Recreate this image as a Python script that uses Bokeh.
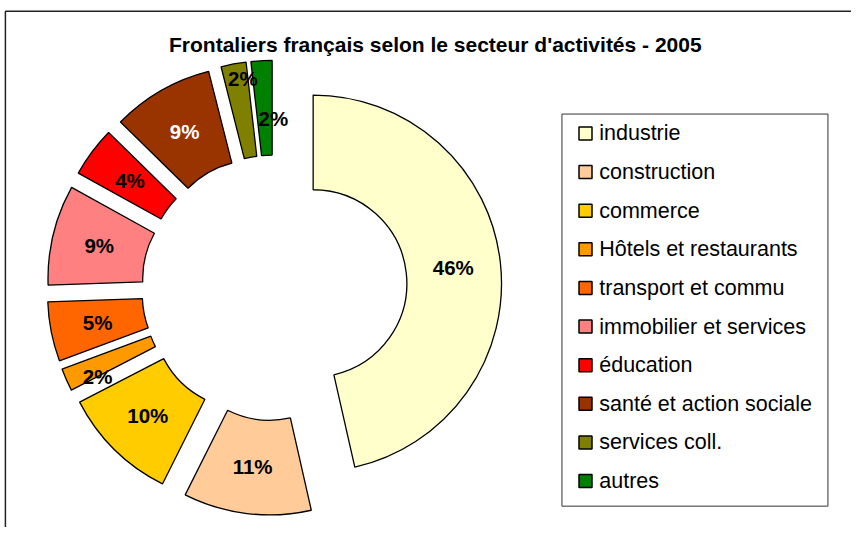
import math
from bokeh.plotting import figure
from bokeh.models import Range1d, ColumnDataSource
from bokeh.embed import file_html
from bokeh.resources import INLINE
from bokeh.core.properties import value

# ---------------- data ----------------
title = "Frontaliers français selon le secteur d'activités - 2005"
categories = ["industrie", "construction", "commerce", "Hôtels et restaurants",
              "transport et commu", "immobilier et services", "éducation",
              "santé et action sociale", "services coll.", "autres"]
shares = [46.45, 10.95, 10.0, 1.95, 5.1, 8.6, 4.3, 8.7, 2.15, 1.8]

# ---------------- style / layout ----------------
colors = ["#FFFFCC", "#FFCC99", "#FFCC00", "#FF9900", "#FF6600",
          "#FF8080", "#FF0000", "#993300", "#808000", "#008000"]
label_colors = ["black"] * 7 + ["white"] + ["black"] * 2
FONT = value("Liberation Sans")

W, H = 851, 527
SX, SY = W / 867.0, H / 543.0      # map reference-page pixels to figure pixels
S = (SX + SY) / 2.0

def X(x):
    return x * SX

def Y(y):
    return H - y * SY

CX, CY = 279, 296                  # doughnut centre (page px)
R_OUT, R_IN = 193 * S, 96 * S
EXPLODE = 40 * S
label_r = [144.5] * 10
label_dang = [0.0] * 10
label_r[3], label_dang[3] = 162.6, 3.5
label_r[8], label_dang[8] = 176.5, -2.2
label_r[9], label_dang[9] = 134.0, -3.8

p = figure(width=W, height=H, x_range=Range1d(0, W), y_range=Range1d(0, H),
           output_backend="svg", toolbar_location=None, min_border=0)
p.axis.visible = False
p.grid.visible = False
p.outline_line_color = None
p.background_fill_color = "white"
p.border_fill_color = "white"

# chart frame (left and top edges visible)
p.line(x=[X(5), X(5), W], y=[0, Y(11), Y(11)], line_color="#222222", line_width=1.5)

total = float(sum(shares))
xs, ys, starts, ends, lx, ly, labels = [], [], [], [], [], [], []
cum = 0.0
for i, v in enumerate(shares):
    a0 = cum / total * 360.0
    a1 = (cum + v) / total * 360.0
    cum += v
    mid = math.radians(90.0 - (a0 + a1) / 2.0)
    cx = X(CX) + EXPLODE * math.cos(mid)
    cy = Y(CY) + EXPLODE * math.sin(mid)
    xs.append(cx)
    ys.append(cy)
    starts.append(math.radians(90.0 - a1))
    ends.append(math.radians(90.0 - a0))
    la = mid + math.radians(label_dang[i])
    lx.append(cx + label_r[i] * S * math.cos(la))
    ly.append(cy + label_r[i] * S * math.sin(la))
    labels.append("%d%%" % round(v / total * 100))

src = ColumnDataSource(dict(x=xs, y=ys, start=starts, end=ends, color=colors,
                            lx=lx, ly=ly, label=labels, lcolor=label_colors))
p.annular_wedge(x="x", y="y", inner_radius=R_IN, outer_radius=R_OUT,
                start_angle="start", end_angle="end", direction="anticlock",
                fill_color="color", line_color="black", line_width=1.3, source=src)
p.text(x="lx", y="ly", text="label", text_color="lcolor", text_align="center",
       text_baseline="middle", text_font=FONT, text_font_style="bold",
       text_font_size="20.5px", source=src)

# title
p.text(x=[X(443)], y=[Y(45)], text=[title], text_align="center", text_baseline="middle",
       text_font=FONT, text_font_style="bold", text_font_size="21px", text_color="black")

# legend
p.quad(left=[X(572)], right=[X(843)], top=[Y(117)], bottom=[Y(521)],
       fill_color="white", line_color="#333333", line_width=1)
n = len(categories)
sy = [Y(137 + 39.8 * i) for i in range(n)]
p.rect(x=[X(596)] * n, y=sy, width=13, height=13, fill_color=colors,
       line_color="black", line_width=1.5)
p.text(x=[X(610)] * n, y=sy, text=categories, text_align="left", text_baseline="middle",
       text_font=FONT, text_font_size="21.5px", text_color="black")

open("out.html", "w").write(file_html(p, INLINE))
